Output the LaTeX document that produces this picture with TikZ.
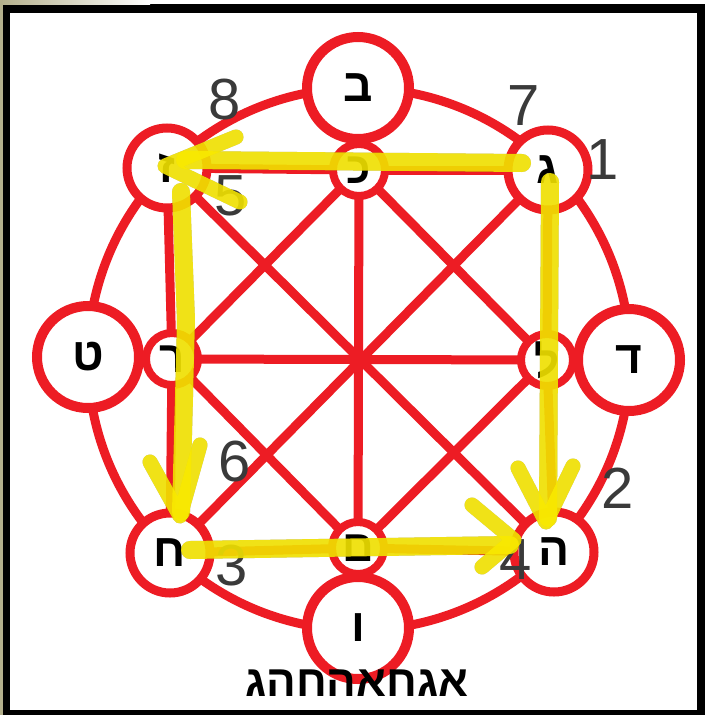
\documentclass[tikz,border=0pt]{standalone}
\usepackage{fontspec}
\setmainfont{Liberation Sans}
\newfontfamily\heb[Script=Hebrew]{Liberation Sans Bold}
\pgfdeclarelayer{background}
\pgfdeclarelayer{top}
\pgfsetlayers{background,main,top}
\definecolor{dred}{RGB}{237,28,36}
\definecolor{hly}{RGB}{250,234,0}
\definecolor{numgray}{RGB}{58,58,58}
\definecolor{beigec}{RGB}{180,176,140}
\begin{document}
\begin{tikzpicture}[x=1pt,y=-1pt,
  redline/.style={draw=dred,line width=9pt},
  outerring/.style={circle,draw=dred,fill=white,line width=10pt,inner sep=0pt,minimum size=102pt,
     font=\heb\fontsize{46}{48}\selectfont},
  diagring/.style={circle,draw=dred,fill=white,line width=9pt,inner sep=0pt,minimum size=80pt,
     font=\heb\fontsize{46}{48}\selectfont},
  innerring/.style={circle,draw=dred,fill=white,line width=8pt,inner sep=0pt,minimum size=52pt,
     font=\heb\fontsize{44}{46}\selectfont},
  numst/.style={inner sep=0pt,text=numgray,font=\fontsize{58}{60}\selectfont},
  yshadow/.style={draw=black,opacity=.3,line cap=round,line join=round},
  yline/.style={draw=hly,opacity=.87,line cap=round,line join=round},
]
\useasboundingbox (0,0) rectangle (705,715);
\begin{pgfonlayer}{background}
  \fill[black] (0,0) rectangle (705,715);
  \shade[left color=beigec,right color=white] (0,0) rectangle (150,4);
  \fill[white] (150,0) rectangle (705,4);
  \fill[beigec] (0,0) rectangle (2.5,715);
  \fill[white] (10,12.5) rectangle (697,710);
\end{pgfonlayer}
\coordinate (C) at (359,359);
% outer circles
\node[outerring] (bet)   at (358,88)  {ב};
\node[outerring] (dalet) at (629,360) {ד};
\node[outerring] (vav)   at (358,628) {ו};
\node[outerring] (tet)   at (88,357)  {ט};
\node[diagring] (zayin)  at (167,168) {ז};
\node[diagring] (gimel)  at (548,170) {ג};
\node[diagring] (he)     at (554,552) {ה};
\node[diagring] (het)    at (170,553) {ח};
% inner circles
\node[innerring] (kaf)   at (359,170) {כ};
\node[innerring] (lamed) at (547,360) {ל};
\node[innerring] (mem)   at (358,548) {ם};
\node[innerring] (resh)  at (172,359) {ר};
\begin{pgfonlayer}{background}
  \draw[redline] (C) circle[radius=271];
  \begin{scope}[shorten <=-6pt,shorten >=-6pt]
  \draw[redline] (resh) -- (lamed);
  \draw[redline] (kaf) -- (mem);
  \draw[redline] (zayin) -- (he);
  \draw[redline] (gimel) -- (het);
  \draw[redline] (kaf) -- (lamed);
  \draw[redline] (lamed) -- (mem);
  \draw[redline] (mem) -- (resh);
  \draw[redline] (resh) -- (kaf);
  \draw[redline] (zayin) -- (kaf);
  \draw[redline] (kaf) -- (gimel);
  \draw[redline] (gimel) -- (lamed);
  \draw[redline] (lamed) -- (he);
  \draw[redline] (he) -- (mem);
  \draw[redline] (mem) -- (het);
  \draw[redline] (het) -- (resh);
  \draw[redline] (resh) -- (zayin);
  \end{scope}
\end{pgfonlayer}
% numbers
\node[numst] (n1) at (603,160) {1};
\node[numst] (n2) at (618,488) {2};
\node[numst] (n3) at (232,566) {3};
\node[numst] (n4) at (516,560) {4};
\node[numst] (n5) at (231,196) {5};
\node[numst] (n6) at (235,462) {6};
\node[numst] (n7) at (524,106) {7};
\node[numst] (n8) at (225,100) {8};
% yellow path coordinates
\coordinate (t0) at (522,163); \coordinate (t1) at (185,160);
\coordinate (tt) at (165,166); \coordinate (ta) at (236,137); \coordinate (tb) at (240,202);
\coordinate (r0) at (550,182); \coordinate (r1) at (548,518);
\coordinate (rt) at (546,522); \coordinate (ra) at (518,468); \coordinate (rb) at (573,466);
\coordinate (l0) at (181,192); \coordinate (lm) at (186,320); \coordinate (l1) at (181,512);
\coordinate (lt) at (180,516); \coordinate (la) at (150,462); \coordinate (lb) at (200,445);
\coordinate (b0) at (190,550); \coordinate (b1) at (510,545);
\coordinate (bt) at (514,540); \coordinate (ba) at (472,505); \coordinate (bb) at (482,567);
\begin{pgfonlayer}{top}
  \begin{scope}[shift={(-4,4)}]
    \draw[yshadow,line width=18pt] (t0) -- (t1) (r0) -- (r1) (l0) -- (lm) -- (l1) (b0) -- (b1);
    \draw[yshadow,line width=15pt] (ta) -- (tt) -- (tb) (ra) -- (rt) -- (rb) (la) -- (lt) -- (lb) (ba) -- (bt) -- (bb);
  \end{scope}
  \draw[yline,line width=18pt] (t0) -- (t1) (r0) -- (r1) (l0) -- (lm) -- (l1) (b0) -- (b1);
  \draw[yline,line width=15pt] (ta) -- (tt) -- (tb) (ra) -- (rt) -- (rb) (la) -- (lt) -- (lb) (ba) -- (bt) -- (bb);
\end{pgfonlayer}
% caption (typed in the order in which it is shown, left to right)
\node[anchor=base,inner sep=0pt,font=\heb\fontsize{44}{46}\selectfont] (title) at (357,696) {אגחאהחהג};
\end{tikzpicture}
\end{document}
